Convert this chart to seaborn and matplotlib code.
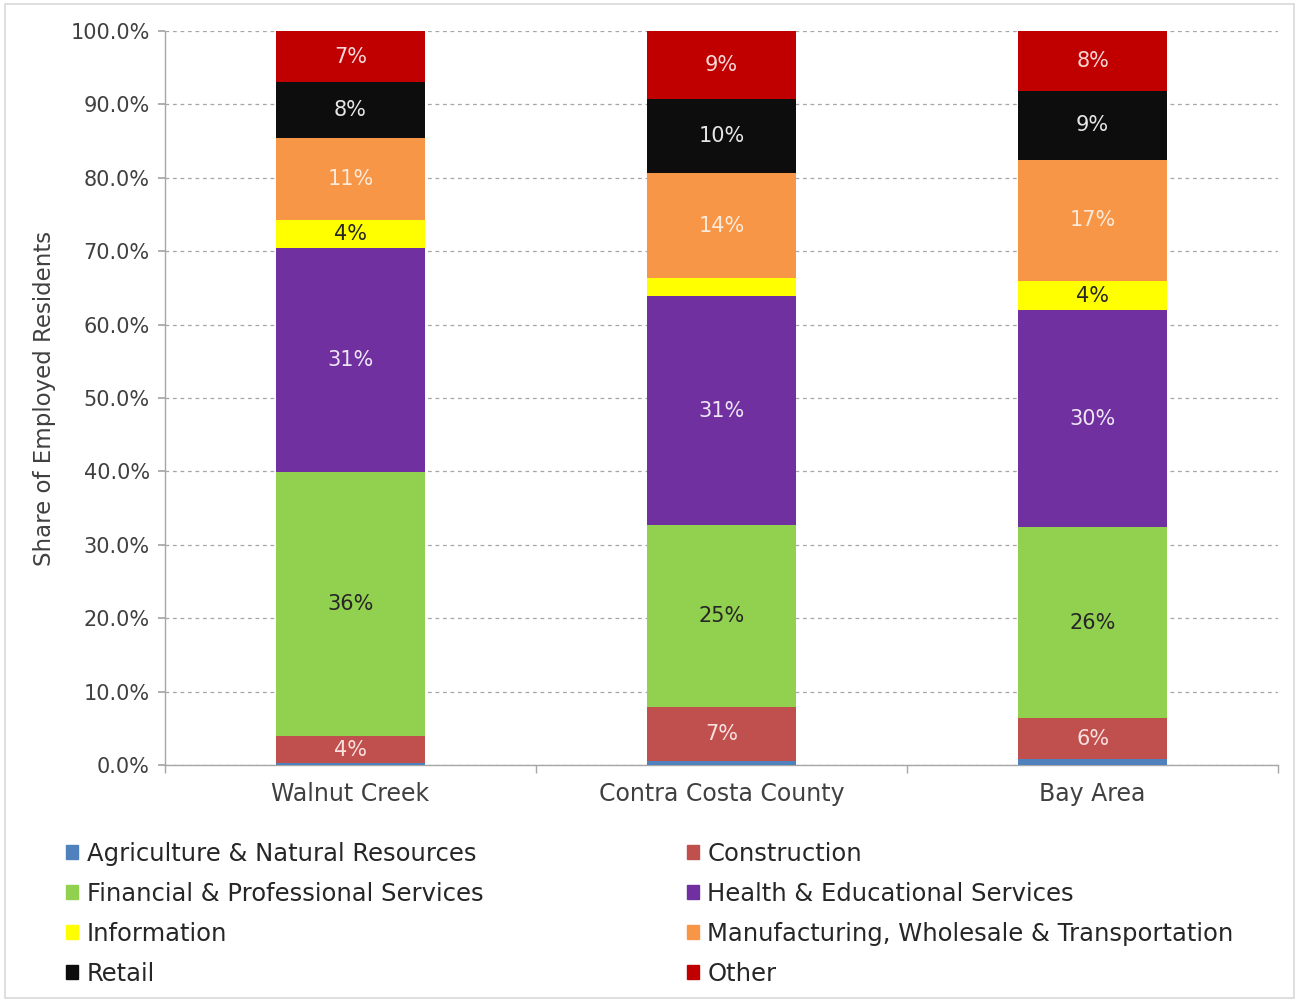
import matplotlib
matplotlib.use("Agg")
import matplotlib.pyplot as plt
import matplotlib.patches as mpatches
from matplotlib.ticker import FuncFormatter, FixedLocator
import seaborn as sns
import pandas as pd

# Employed residents by industry, share of total (%)
regions = ["Walnut Creek", "Contra Costa County", "Bay Area"]
industries = [
    "Agriculture & Natural Resources",
    "Construction",
    "Financial & Professional Services",
    "Health & Educational Services",
    "Information",
    "Manufacturing, Wholesale & Transportation",
    "Retail",
    "Other",
]
agriculture = [0.3, 0.6, 0.8]
construction = [3.6, 7.3, 5.6]
financial = [36.0, 24.8, 26.0]
health = [30.6, 31.2, 29.6]
information = [3.7, 2.4, 3.9]
manufacturing = [11.2, 14.4, 16.6]
retail = [7.6, 10.0, 9.4]
other = [7.0, 9.3, 8.1]

series = [agriculture, construction, financial, health,
          information, manufacturing, retail, other]
colors = ["#4F81BD", "#C0504D", "#92D050", "#7030A0",
          "#FFFF00", "#F79646", "#0D0D0D", "#C00000"]
label_colors = ["white", "#F8E0DF", "#262626", "#EFE6F5",
                "#262626", "#FBE9DA", "#E6E6E6", "#F6D7D7"]

sns.set_theme(style="white")
plt.rcParams["font.family"] = ["DejaVu Sans"]

fig = plt.figure(figsize=(12.99, 10.02), dpi=100)
fig.patch.set_facecolor("white")
fig.add_artist(mpatches.Rectangle((0.004, 0.004), 0.992, 0.992,
                                  transform=fig.transFigure, fill=False,
                                  edgecolor="#D9D9D9", linewidth=1.2))
ax = fig.add_axes([0.127, 0.2365, 0.857, 0.7325])

bottom = [0.0] * len(regions)
for name, vals, col, tcol in zip(industries, series, colors, label_colors):
    df = pd.DataFrame({"region": regions, "share": vals})
    sns.barplot(data=df, x="region", y="share", bottom=bottom, color=col,
                width=0.4, ax=ax, saturation=1, linewidth=0, zorder=3,
                errorbar=None)
    for i, v in enumerate(vals):
        if v >= 3:
            ax.text(i, bottom[i] + v / 2, f"{v:.0f}%", ha="center",
                    va="center", fontsize=15, color=tcol, zorder=4)
    bottom = [b + v for b, v in zip(bottom, vals)]

ax.set_ylim(0, 100)
ax.set_xlim(-0.5, 2.5)
ax.yaxis.set_major_locator(FixedLocator(range(0, 101, 10)))
ax.yaxis.set_major_formatter(FuncFormatter(lambda y, _: f"{y:.1f}%"))
ax.grid(axis="y", linestyle=(0, (3, 3)), color="#A6A6A6", linewidth=0.9,
        zorder=0)
ax.set_axisbelow(True)

for s in ["top", "right"]:
    ax.spines[s].set_visible(False)
for s in ["left", "bottom"]:
    ax.spines[s].set_color("#A6A6A6")
    ax.spines[s].set_linewidth(1.0)

ax.tick_params(axis="y", length=5, color="#A6A6A6", labelsize=15,
               labelcolor="#404040", pad=6, left=True)
ax.tick_params(axis="x", which="major", length=0, labelsize=17,
               labelcolor="#404040", pad=12)
ax.set_xticks([-0.5, 0.5, 1.5, 2.5], minor=True)
ax.tick_params(axis="x", which="minor", length=6, color="#A6A6A6",
               direction="out", bottom=True)

ax.set_xlabel("")
ax.set_ylabel("Share of Employed Residents", fontsize=16.5, color="#404040",
              labelpad=10)

# legend in two independent columns
order_left = [0, 2, 4, 6]
order_right = [1, 3, 5, 7]
for idxs, x0 in [(order_left, 0.034), (order_right, 0.5118)]:
    handles = [mpatches.Patch(color=colors[i], label=industries[i]) for i in idxs]
    fig.legend(handles=handles, loc="upper left",
               bbox_to_anchor=(x0, 0.182), frameon=False, fontsize=17.5,
               handlelength=0.5, handleheight=0.5, handletextpad=0.35,
               labelspacing=0.66, labelcolor="#262626")

fig.savefig("out.png", dpi=100, facecolor="white")
